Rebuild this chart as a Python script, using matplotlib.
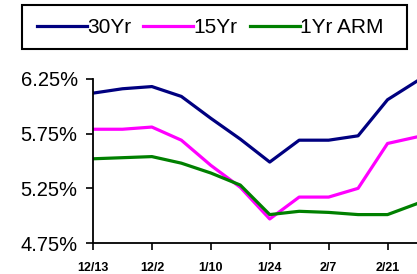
import matplotlib
matplotlib.use("Agg")
import matplotlib.pyplot as plt
from matplotlib.patches import Rectangle

# weekly mortgage rates (%), 12/13 .. 2/28
weeks = ["12/13", "12/20", "12/27", "1/3", "1/10", "1/17",
         "1/24", "1/31", "2/7", "2/14", "2/21", "2/28"]
rate_30yr = [6.12, 6.16, 6.18, 6.09, 5.89, 5.70, 5.49, 5.69, 5.69, 5.73, 6.06, 6.23]
rate_15yr = [5.79, 5.79, 5.81, 5.69, 5.46, 5.26, 4.97, 5.17, 5.17, 5.25, 5.66, 5.72]
rate_1arm = [5.52, 5.53, 5.54, 5.48, 5.39, 5.28, 5.01, 5.04, 5.03, 5.01, 5.01, 5.11]

tick_labels = ["12/13", "12/2", "1/10", "1/24", "2/7", "2/21"]
yticks = [4.75, 5.25, 5.75, 6.25]

plt.rcParams['font.family'] = ['Liberation Sans', 'DejaVu Sans']

fig = plt.figure(figsize=(4.17, 2.74), dpi=100)
ax = fig.add_axes([0.223, 0.113, 0.777, 0.599])

x = list(range(len(weeks)))
ax.plot(x, rate_30yr, color="#000080", lw=2.3, label="30Yr")
ax.plot(x, rate_15yr, color="#ff00ff", lw=2.3, label="15Yr")
ax.plot(x, rate_1arm, color="#008000", lw=2.3, label="1Yr ARM")

ax.set_xlim(0, len(weeks) - 1)
ax.set_ylim(4.75, 6.25)
ax.set_yticks(yticks)
ax.set_yticklabels(["%.2f%%" % v for v in yticks], fontsize=14.5)
ax.set_xticks(x[::2])
ax.set_xticklabels(tick_labels, fontsize=9, fontweight="bold")
ax.tick_params(axis="both", direction="out", length=5, width=1.2, color="black")
ax.tick_params(axis="x", pad=9)
ax.tick_params(axis="y", pad=6)

for s in ["top", "right"]:
    ax.spines[s].set_visible(False)
for s in ["left", "bottom"]:
    ax.spines[s].set_linewidth(1.3)

# legend box across the top
fig.patches.append(Rectangle((0.053, 0.821), 0.923, 0.161, transform=fig.transFigure,
                             fill=False, edgecolor="black", lw=1.5))
fig.legend(loc="center", bbox_to_anchor=(0.504, 0.9), ncol=3, frameon=False,
           fontsize=15, handlelength=2.4, handletextpad=0.0, columnspacing=0.6)

fig.savefig("out.png", dpi=100)
